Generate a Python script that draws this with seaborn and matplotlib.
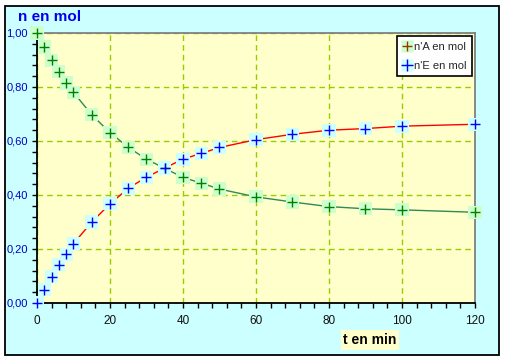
import matplotlib
matplotlib.use("Agg")
import matplotlib.pyplot as plt
import seaborn as sns
import numpy as np
from matplotlib.patches import Rectangle
from matplotlib.lines import Line2D
from matplotlib.ticker import FuncFormatter, MultipleLocator

# Data
t_min = [0, 2, 4, 6, 8, 10, 15, 20, 25, 30, 35, 40, 45, 50, 60, 70, 80, 90, 100, 120]
nA_mol = [1.00, 0.948, 0.899, 0.856, 0.815, 0.780, 0.697, 0.631, 0.577, 0.532, 0.499,
          0.465, 0.444, 0.422, 0.393, 0.374, 0.357, 0.349, 0.345, 0.336]
nE_mol = [0.00, 0.049, 0.097, 0.142, 0.181, 0.220, 0.300, 0.367, 0.425, 0.466, 0.500,
          0.533, 0.554, 0.576, 0.605, 0.625, 0.640, 0.646, 0.655, 0.662]
label_A = "n'A en mol"
label_E = "n'E en mol"

sns.set_style("ticks")
plt.rcParams['font.family'] = ['Liberation Sans', 'DejaVu Sans']

fig = plt.figure(figsize=(5.06, 3.60), dpi=100, facecolor='white')
fig.patches.append(Rectangle((5/506, 1 - 355/360), 494/506, 349/360, transform=fig.transFigure,
                             facecolor='#ccffff', edgecolor='black', linewidth=1.3, zorder=-5))

ax = fig.add_axes([37/506, 1 - 303/360, 438/506, 270/360])
ax.set_zorder(2)
ax.set_facecolor('#ffffcc')

# lines
sns.lineplot(x=t_min, y=nA_mol, ax=ax, color='#2e8b57', linewidth=1.0, zorder=2)
sns.lineplot(x=t_min, y=nE_mol, ax=ax, color='#ff0000', linewidth=1.0, zorder=2)
# square backgrounds
sns.scatterplot(x=t_min, y=nA_mol, ax=ax, marker='s', s=90, color='#ccffcc', edgecolor='none',
                zorder=3, clip_on=False)
sns.scatterplot(x=t_min, y=nE_mol, ax=ax, marker='s', s=90, color='#ccffff', edgecolor='none',
                zorder=3, clip_on=False)
# plus markers
sns.scatterplot(x=t_min, y=nA_mol, ax=ax, marker='+', s=42, color='#008000', linewidth=1.0,
                zorder=4, clip_on=False)
sns.scatterplot(x=t_min, y=nE_mol, ax=ax, marker='+', s=60, color='#0000ff', linewidth=1.0,
                zorder=4, clip_on=False)

ax.set_xlim(0, 120)
ax.set_ylim(0, 1)
ax.xaxis.set_major_locator(MultipleLocator(20))
ax.xaxis.set_minor_locator(MultipleLocator(4))
ax.yaxis.set_major_locator(MultipleLocator(0.2))
ax.yaxis.set_minor_locator(MultipleLocator(0.04))
ax.yaxis.set_major_formatter(FuncFormatter(lambda v, p: f"{v:.2f}".replace('.', ',')))

ax.grid(True, which='major', color='#99cc00', linestyle=(0, (4, 3)), linewidth=1.0)
ax.set_axisbelow(True)

for s in ['left', 'bottom']:
    ax.spines[s].set_color('black')
    ax.spines[s].set_linewidth(1.3)
for s in ['top', 'right']:
    ax.spines[s].set_visible(True)
    ax.spines[s].set_color('#808080')
    ax.spines[s].set_linewidth(1.3)

ax.tick_params(axis='both', which='both', direction='out', length=3.5, width=1, color='black')
ax.tick_params(axis='x', labelsize=8.5, labelcolor='#111111', pad=5)
ax.tick_params(axis='y', labelsize=8, labelcolor='#0000cc', pad=3)
ax.set_xlabel('')
ax.set_ylabel('')

fig.text(18/506, 1 - 17/360, 'n en mol', color='#0000ee', fontsize=11, fontweight='bold',
         ha='left', va='center')
fig.text(370/506, 1 - 340/360, 't en min', color='black', fontsize=10, fontweight='heavy',
         ha='center', va='center',
         bbox=dict(boxstyle='square,pad=0.2', facecolor='#ffffcc', edgecolor='none'))

hA = (Line2D([], [], marker='s', linestyle='none', markersize=8, markerfacecolor='#ccffcc',
             markeredgecolor='none'),
      Line2D([], [], marker='+', linestyle='none', markersize=7, markeredgecolor='#993300',
             markeredgewidth=1.0))
hE = (Line2D([], [], marker='s', linestyle='none', markersize=8, markerfacecolor='#ccffff',
             markeredgecolor='none'),
      Line2D([], [], marker='+', linestyle='none', markersize=8, markeredgecolor='#0000ff',
             markeredgewidth=1.0))
leg = ax.legend([hA, hE], [label_A, label_E], loc='upper right', fontsize=8,
                frameon=True, fancybox=False, framealpha=1, edgecolor='black',
                handlelength=0.8, handletextpad=0.2, borderaxespad=0.3,
                borderpad=0.5, labelspacing=0.8, bbox_to_anchor=(1.0, 1.0))
leg.get_frame().set_linewidth(1.2)

fig.savefig('out.png', dpi=100, facecolor=fig.get_facecolor())
